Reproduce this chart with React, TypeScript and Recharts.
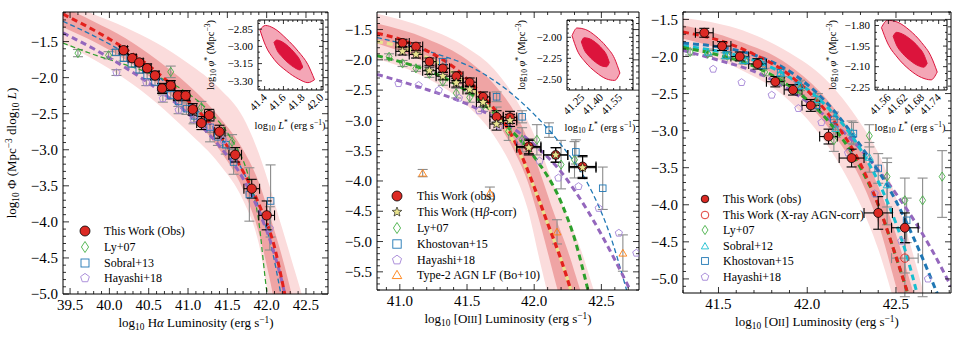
import React from 'react';
import { ComposedChart, XAxis, YAxis, Scatter, Line, Area, ErrorBar } from 'recharts';

const FONT = '"Liberation Serif", "DejaVu Serif", serif';
const W = 960;
const H = 341;

// ---------- Panel 1: H-alpha ----------
const haObsL = [40.18, 40.29, 40.38, 40.48, 40.58, 40.67, 40.78, 40.87, 40.97, 41.06, 41.17, 41.27, 41.40, 41.60, 41.81, 42.00];
const haObsPhi = [-1.62, -1.73, -1.79, -1.87, -1.97, -2.15, -2.11, -2.25, -2.25, -2.44, -2.63, -2.52, -2.75, -3.07, -3.54, -3.91];
const haObsErrPhi = [0.05, 0.05, 0.05, 0.06, 0.06, 0.07, 0.07, 0.07, 0.07, 0.08, 0.09, 0.08, 0.09, 0.1, 0.13, 0.2];
const haObsErrL = [0.05, 0.05, 0.05, 0.05, 0.05, 0.05, 0.05, 0.05, 0.05, 0.05, 0.06, 0.06, 0.07, 0.08, 0.1, 0.1];

const haSobL = [40.08, 40.18, 40.28, 40.38, 40.48, 40.58, 40.68, 40.78, 40.88, 40.98, 41.08, 41.18, 41.28, 41.38, 41.48, 41.58, 41.78, 42.05];
const haSobPhi = [-1.65, -1.73, -1.81, -1.89, -1.97, -2.06, -2.15, -2.24, -2.33, -2.43, -2.53, -2.62, -2.69, -2.82, -2.93, -3.17, -3.62, -3.71];
const haSobErr = [0.04, 0.04, 0.04, 0.05, 0.05, 0.05, 0.06, 0.06, 0.07, 0.08, 0.09, 0.1, 0.2, 0.12, 0.13, 0.17, 0.37, 0.5];

const haLyL = [39.60, 39.99, 40.78, 41.17, 41.56];
const haLyPhi = [-1.66, -1.69, -1.92, -2.41, -2.89];
const haLyErr = [0.05, 0.05, 0.08, 0.08, 0.1];

const haHayL = [40.09, 40.47, 40.68, 40.88, 41.07, 41.28, 41.45, 42.04];
const haHayPhi = [-1.93, -2.07, -2.29, -2.45, -2.58, -2.68, -2.87, -4.09];
const haHayErr = [0.04, 0.04, 0.05, 0.05, 0.06, 0.08, 0.1, 0.3];

const haFitL = [39.41, 39.8, 40.2, 40.6, 41.0, 41.4, 41.7, 41.9, 42.1, 42.23, 42.32];
const haFitPhi = [-1.12, -1.34, -1.60, -1.92, -2.32, -2.80, -3.3, -3.75, -4.35, -5.0, -5.5];
const haSobFitL = [39.41, 39.8, 40.2, 40.6, 41.0, 41.4, 41.7, 41.9, 42.05, 42.18];
const haSobFitPhi = [-1.22, -1.42, -1.66, -1.97, -2.33, -2.80, -3.3, -3.8, -4.3, -5.0];
const haHayFitL = [39.41, 39.8, 40.2, 40.6, 41.0, 41.4, 41.7, 41.9, 42.1, 42.23, 42.3];
const haHayFitPhi = [-1.38, -1.60, -1.86, -2.15, -2.50, -2.95, -3.40, -3.85, -4.45, -5.0, -5.4];
const haLyFitL = [39.41, 39.8, 40.2, 40.6, 41.0, 41.3, 41.55, 41.75, 41.9, 42.0, 42.05];
const haLyFitPhi = [-1.52, -1.68, -1.82, -1.98, -2.22, -2.50, -2.85, -3.3, -4.0, -4.95, -5.3];

const haBandL = [39.41, 39.8, 40.2, 40.6, 41.0, 41.4, 41.7, 41.9, 42.05, 42.2, 42.35, 42.5];
const haLightHi = [-0.95, -1.12, -1.30, -1.52, -1.8, -2.15, -2.55, -3.05, -3.55, -4.1, -4.65, -5.2];
const haLightLo = [-1.52, -1.75, -2.02, -2.35, -2.75, -3.2, -3.7, -4.3, -5.2, -6, -7, -8];
const haDarkHi = [-1.02, -1.22, -1.45, -1.75, -2.1, -2.55, -3.0, -3.45, -3.95, -4.5, -5.15, -5.9];
const haDarkLo = [-1.30, -1.50, -1.75, -2.07, -2.48, -3.0, -3.55, -4.15, -4.85, -5.7, -6.5, -7.5];

// ---------- Panel 2: [OIII] ----------
const o3ObsL = [41.02, 41.12, 41.22, 41.32, 41.42, 41.52, 41.62, 41.72, 41.82, 41.96, 42.16, 42.36];
const o3ObsPhi = [-1.72, -1.78, -2.03, -2.14, -2.27, -2.37, -2.61, -2.94, -2.95, -3.43, -3.57, -3.76];
const o3StarPhi = [-1.86, -1.91, -2.18, -2.27, -2.38, -2.49, -2.70, -3.06, -3.0, -3.45, -3.57, -3.78];
const o3ErrPhi = [0.06, 0.06, 0.06, 0.06, 0.07, 0.07, 0.08, 0.1, 0.1, 0.12, 0.12, 0.18];
const o3ErrL = [0.05, 0.05, 0.05, 0.05, 0.05, 0.05, 0.05, 0.05, 0.05, 0.09, 0.09, 0.1];

const o3LyL = [40.92, 41.02, 41.12, 41.22, 41.32, 41.42, 41.52, 41.62, 41.72, 41.81, 41.91, 42.02, 42.20, 42.30];
const o3LyPhi = [-1.95, -2.06, -2.14, -2.23, -2.36, -2.55, -2.62, -2.75, -2.9, -3.18, -3.32, -3.32, -3.73, -3.65];
const o3LyErr = [0.05, 0.05, 0.05, 0.06, 0.06, 0.08, 0.08, 0.1, 0.12, 0.15, 0.2, 0.25, 0.4, 0.3];

const o3KhoL = [41.32, 41.72, 41.91, 42.11, 42.31, 42.51];
const o3KhoPhi = [-2.03, -2.61, -2.94, -3.16, -3.52, -4.12];
const o3KhoErr = [0.05, 0.08, 0.1, 0.12, 0.2, 0.35];

const o3HayL = [40.99, 41.14, 41.29, 41.44, 41.59, 41.74, 41.89, 42.04, 42.18, 42.33, 42.48, 42.63, 42.76];
const o3HayPhi = [-2.39, -2.42, -2.50, -2.63, -2.84, -3.09, -3.34, -3.67, -3.95, -4.09, -4.45, -4.86, -5.19];

const o3AgnL = [41.17, 41.67, 42.17, 42.66];
const o3AgnPhi = [-3.87, -4.20, -4.84, -5.19];
const o3AgnErr = [0.06, 0.1, 0.2, 0.3];

const o3FitL = [40.83, 41.0, 41.2, 41.4, 41.6, 41.8, 41.9, 42.0, 42.1, 42.2, 42.3];
const o3FitPhi = [-1.56, -1.66, -1.85, -2.12, -2.55, -3.12, -3.55, -4.1, -4.7, -5.3, -6.0];
const o3CorrFitPhi = [-1.70, -1.78, -1.96, -2.22, -2.62, -3.18, -3.58, -4.12, -4.7, -5.3, -6.0];
const o3LyFitL = [40.83, 41.0, 41.2, 41.4, 41.6, 41.8, 42.0, 42.2, 42.3, 42.4];
const o3LyFitPhi = [-1.93, -2.03, -2.17, -2.38, -2.68, -3.1, -3.6, -4.35, -4.95, -5.8];
const o3KhoFitL = [40.83, 41.2, 41.6, 41.8, 42.0, 42.2, 42.4, 42.55, 42.7];
const o3KhoFitPhi = [-1.63, -1.85, -2.2, -2.5, -2.9, -3.4, -4.05, -4.8, -5.9];
const o3HayFitL = [40.83, 41.0, 41.2, 41.4, 41.6, 41.8, 42.0, 42.2, 42.4, 42.6, 42.78];
const o3HayFitPhi = [-2.24, -2.35, -2.49, -2.64, -2.83, -3.07, -3.4, -3.85, -4.5, -5.3, -6.1];

const o3BandL = [40.83, 41.2, 41.5, 41.7, 41.85, 41.95, 42.05, 42.15, 42.25, 42.35, 42.45, 42.55];
const o3LightHi = [-1.24, -1.48, -1.8, -2.15, -2.6, -3.0, -3.5, -4.1, -4.6, -5.15, -5.85, -6.5];
const o3DarkHi = [-1.40, -1.65, -2.0, -2.4, -2.85, -3.3, -3.9, -4.55, -5.15, -5.85, -6.5, -7];
const o3DarkLo = [-1.73, -2.05, -2.5, -2.95, -3.5, -4.0, -4.75, -5.6, -6.4, -7, -7.5, -8];
const o3LightLo = [-1.98, -2.3, -2.75, -3.25, -3.85, -4.45, -5.4, -6.3, -7, -7.5, -8, -8.5];

// ---------- Panel 3: [OII] ----------
const o2ObsL = [41.42, 41.52, 41.62, 41.72, 41.82, 41.92, 42.02, 42.12, 42.25, 42.40, 42.55];
const o2ObsPhi = [-1.68, -1.86, -2.00, -2.10, -2.34, -2.45, -2.66, -3.08, -3.37, -4.11, -4.31];
const o2ErrPhi = [0.06, 0.06, 0.06, 0.07, 0.07, 0.07, 0.08, 0.1, 0.12, 0.22, 0.2];
const o2ErrL = [0.05, 0.05, 0.05, 0.05, 0.05, 0.05, 0.05, 0.05, 0.07, 0.08, 0.075];

const o2XrL = [42.55];
const o2XrPhi = [-4.72];
const o2XrErrPhi = [0.2];
const o2XrErrL = [0.075];

const o2LyL = [41.34, 41.44, 41.55, 41.65, 41.76, 41.86, 41.96, 42.05, 42.15, 42.35, 42.45, 42.55, 42.65, 42.76];
const o2LyPhi = [-1.94, -1.96, -1.99, -2.05, -2.21, -2.33, -2.45, -2.62, -3.13, -3.07, -3.62, -3.94, -3.94, -3.62];
const o2LyErr: [number, number][] = [[0.04, 0.04], [0.04, 0.04], [0.04, 0.04], [0.05, 0.05], [0.05, 0.05], [0.06, 0.06], [0.07, 0.07], [0.08, 0.08], [0.15, 0.15], [0.15, 0.15], [0.65, 0.25], [1.3, 0.3], [1.3, 0.3], [0.55, 0.35]];

const o2SobL = [41.44, 41.54, 41.64, 41.74, 41.85, 41.96, 42.06, 42.16, 42.25, 42.35, 42.45];
const o2SobPhi = [-1.94, -1.99, -2.05, -2.08, -2.22, -2.39, -2.58, -2.97, -3.02, -3.36, -3.73];
const o2SobErr = [0.04, 0.04, 0.05, 0.05, 0.06, 0.07, 0.08, 0.12, 0.15, 0.2, 0.3];

const o2KhoL = [41.55, 41.65, 41.75, 41.85, 41.95, 42.05, 42.15, 42.26, 42.40, 42.56];
const o2KhoPhi = [-1.98, -2.05, -2.12, -2.22, -2.40, -2.66, -2.85, -3.04, -3.51, -4.21];
const o2KhoErr = [0.04, 0.04, 0.05, 0.05, 0.06, 0.08, 0.1, 0.15, 0.2, 0.3];

const o2HayL = [41.47, 41.63, 41.80, 41.95, 42.08, 42.23, 42.38, 42.53, 42.68];
const o2HayPhi = [-2.17, -2.35, -2.52, -2.70, -2.89, -3.30, -3.85, -4.49, -5.0];

const o2FitL = [41.30, 41.5, 41.7, 41.9, 42.1, 42.3, 42.4, 42.5, 42.58];
const o2FitPhi = [-1.67, -1.78, -1.97, -2.25, -2.72, -3.45, -4.0, -4.7, -5.3];
const o2KhoFitL = [41.30, 41.5, 41.7, 41.9, 42.1, 42.3, 42.5, 42.6, 42.75];
const o2KhoFitPhi = [-1.82, -1.87, -1.98, -2.2, -2.6, -3.2, -3.95, -4.45, -5.3];
const o2SobFitL = [41.30, 41.5, 41.7, 41.9, 42.1, 42.3, 42.45, 42.55, 42.63];
const o2SobFitPhi = [-1.86, -1.93, -2.05, -2.28, -2.65, -3.25, -3.95, -4.6, -5.3];
const o2LyFitL = [41.30, 41.5, 41.7, 41.9, 42.1, 42.3, 42.4, 42.5, 42.58];
const o2LyFitPhi = [-1.88, -1.98, -2.13, -2.4, -2.82, -3.5, -4.0, -4.7, -5.3];
const o2HayFitL = [41.30, 41.5, 41.7, 41.9, 42.1, 42.3, 42.5, 42.7, 42.81];
const o2HayFitPhi = [-1.92, -2.05, -2.2, -2.45, -2.8, -3.25, -3.85, -4.6, -5.1];

const o2BandL = [41.30, 41.6, 41.9, 42.1, 42.3, 42.4, 42.5, 42.6, 42.7];
const o2LightHi = [-1.48, -1.62, -1.95, -2.3, -2.9, -3.3, -3.9, -4.7, -5.6];
const o2DarkHi = [-1.58, -1.78, -2.12, -2.55, -3.25, -3.75, -4.4, -5.2, -6.0];
const o2DarkLo = [-1.76, -1.98, -2.4, -2.9, -3.65, -4.25, -5.1, -6.0, -7];
const o2LightLo = [-1.88, -2.15, -2.6, -3.15, -4.0, -4.6, -5.4, -6.3, -7.2];

// ---------- Insets: confidence ellipses of (L*, phi*) ----------
const in1OutL = [41.35, 41.41, 41.50, 41.63, 41.76, 41.86, 41.93];
const in1OutHi = [-2.855, -2.8175, -2.843, -2.932, -3.046, -3.159, -3.29];
const in1OutLo = [-2.855, -2.9925, -3.112, -3.213, -3.284, -3.316, -3.29];
const in1InL = [41.50, 41.53, 41.585, 41.652, 41.72, 41.775, 41.805];
const in1InHi = [-2.965, -2.945, -2.96, -3.0, -3.058, -3.12, -3.18];
const in1InLo = [-2.965, -3.03, -3.09, -3.145, -3.186, -3.205, -3.18];

const in2OutL = [41.17, 41.21, 41.275, 41.359, 41.443, 41.508, 41.55];
const in2OutHi = [-1.98, -1.889, -1.906, -1.987, -2.112, -2.254, -2.425];
const in2OutLo = [-1.98, -2.151, -2.294, -2.415, -2.495, -2.513, -2.425];
const in2InL = [41.244, 41.266, 41.305, 41.355, 41.405, 41.444, 41.466];
const in2InHi = [-2.054, -2.005, -2.015, -2.06, -2.13, -2.21, -2.30];
const in2InLo = [-2.054, -2.145, -2.225, -2.294, -2.34, -2.35, -2.30];

const in3OutL = [41.535, 41.557, 41.591, 41.635, 41.679, 41.713, 41.735];
const in3OutHi = [-1.815, -1.762, -1.7745, -1.833, -1.9245, -2.026, -2.139];
const in3OutLo = [-1.815, -1.928, -2.0295, -2.121, -2.1795, -2.196, -2.139];
const in3InL = [41.577, 41.589, 41.61, 41.638, 41.666, 41.687, 41.699];
const in3InHi = [-1.878, -1.85, -1.862, -1.899, -1.953, -2.012, -2.076];
const in3InLo = [-1.878, -1.942, -2.002, -2.055, -2.092, -2.104, -2.076];

// ---------- tick labels ----------
const p1XMajor = [39.5, 40.0, 40.5, 41.0, 41.5, 42.0, 42.5];
const p1YMajor = [-1.5, -2.0, -2.5, -3.0, -3.5, -4.0, -4.5, -5.0];
const p2XMajor = [41.0, 41.5, 42.0, 42.5];
const p2YMajor = [-1.5, -2.0, -2.5, -3.0, -3.5, -4.0, -4.5, -5.0, -5.5];
const p3XMajor = [41.5, 42.0, 42.5];
const p3YMajor = [-1.5, -2.0, -2.5, -3.0, -3.5, -4.0, -4.5, -5.0];
const i1XMajor = [41.4, 41.6, 41.8, 42.0];
const i1YMajor = [-2.85, -3.0, -3.15, -3.3];
const i2XMajor = [41.25, 41.4, 41.55];
const i2YMajor = [-2.0, -2.25, -2.5];
const i3XMajor = [41.56, 41.62, 41.68, 41.74];
const i3YMajor = [-1.8, -1.95, -2.1, -2.25];

const C = {
  fit: '#e3201c',
  obs: '#dc2a24',
  blue: '#1f77b4',
  green: '#2ca02c',
  greenMk: '#46b046',
  purple: '#9467bd',
  purpleMk: '#a383d6',
  cyan: '#17becf',
  orange: '#ff7f0e',
  khaki: '#e8e38e',
  gray: '#8c8c8c',
  light: '#fbdcdc',
  dark: '#efa4a4',
  crimson: '#dc143c',
  pink: '#f4a6b6',
};

type Rect = { l: number; r: number; t: number; b: number };
const P1: Rect = { l: 63, r: 328, t: 12, b: 294 };
const P2: Rect = { l: 377, r: 639, t: 12, b: 290 };
const P3: Rect = { l: 683, r: 951, t: 12, b: 293 };
const I1: Rect = { l: 258, r: 323, t: 20, b: 90 };
const I2: Rect = { l: 567, r: 633, t: 20, b: 90 };
const I3: Rect = { l: 875, r: 947, t: 20, b: 90 };
// every axis takes 1px, so the margins leave that room
const margin = (rc: Rect) => ({ left: rc.l - 1, right: W - rc.r - 1, top: rc.t - 1, bottom: H - rc.b - 1 });

const steps = (a: number, b: number, s: number) => {
  const out: number[] = [];
  const k0 = Math.ceil(a / s - 1e-6);
  const k1 = Math.floor(b / s + 1e-6);
  for (let k = k0; k <= k1; k++) out.push(+(k * s).toFixed(4));
  return out;
};

const sc = (xs: number[], ys: number[], ey?: any[], ex?: any[]) =>
  xs.map((x, i) => ({ x, y: ys[i], ey: ey ? ey[i] : 0, ex: ex ? ex[i] : 0 }));
const ln = (xs: number[], ys: number[]) => xs.map((x, i) => ({ x, y: ys[i] }));
const bd = (xs: number[], lo: number[], hi: number[]) => xs.map((x, i) => ({ x, r: [lo[i], hi[i]] }));

// ---------- markers ----------
const mkCircle = (fill: string, stroke: string, r: number, sw = 0.8) => (cx: number, cy: number) =>
  <circle cx={cx} cy={cy} r={r} fill={fill} stroke={stroke} strokeWidth={sw} />;
const mkDiamond = (color: string, h = 4.6, w = 3) => (cx: number, cy: number) =>
  <path d={`M${cx},${cy - h}L${cx + w},${cy}L${cx},${cy + h}L${cx - w},${cy}Z`} fill="none" stroke={color} strokeWidth={0.9} />;
const mkSquare = (color: string, s = 3.3) => (cx: number, cy: number) =>
  <rect x={cx - s} y={cy - s} width={2 * s} height={2 * s} fill="none" stroke={color} strokeWidth={0.9} />;
const poly = (cx: number, cy: number, n: number, r: number, r2?: number) => {
  const out: string[] = [];
  const m = r2 ? 2 * n : n;
  for (let k = 0; k < m; k++) {
    const a = -Math.PI / 2 + (k * 2 * Math.PI) / m;
    const rr = r2 && k % 2 === 1 ? r2 : r;
    out.push(`${(cx + rr * Math.cos(a)).toFixed(2)},${(cy + rr * Math.sin(a)).toFixed(2)}`);
  }
  return out.join(' ');
};
const mkPent = (color: string, r = 3.8) => (cx: number, cy: number) =>
  <polygon points={poly(cx, cy, 5, r)} fill="none" stroke={color} strokeWidth={0.9} />;
const mkTri = (color: string, r = 4.5) => (cx: number, cy: number) =>
  <polygon points={poly(cx, cy + 0.8, 3, r)} fill="none" stroke={color} strokeWidth={0.9} />;
const mkStar = (fill: string, r = 5, r2 = 2.2) => (cx: number, cy: number) =>
  <polygon points={poly(cx, cy, 5, r, r2)} fill={fill} stroke="#000" strokeWidth={0.6} />;
const shape = (mk: (cx: number, cy: number) => React.ReactElement) => (p: any) => mk(p.cx, p.cy);

// ---------- axes ----------
type Side = 'b' | 't' | 'l' | 'r';
function makeTick(side: Side, majors: number[], digits: number, fs: number, show: boolean, rot: boolean, majLen: number, minLen: number) {
  return (p: any) => {
    const v = Number(p.payload.value);
    const major = majors.some((m) => Math.abs(m - v) < 1e-6);
    const len = major ? majLen : minLen;
    const x = p.x;
    const y = p.y;
    const txt = (v < 0 ? '\u2212' : '') + Math.abs(v).toFixed(digits);
    let tl;
    if (side === 'b') tl = <line x1={x} x2={x} y1={y} y2={y - len} />;
    else if (side === 't') tl = <line x1={x} x2={x} y1={y} y2={y + len} />;
    else if (side === 'l') tl = <line x1={x} x2={x + len} y1={y} y2={y} />;
    else tl = <line x1={x} x2={x - len} y1={y} y2={y} />;
    let lab = null;
    if (show && major) {
      if (side === 'b' && !rot) lab = <text x={x} y={y + fs + 1} textAnchor="middle">{txt}</text>;
      else if (side === 'b') lab = <text x={x + 3} y={y + 8} textAnchor="end" transform={`rotate(-45 ${x + 3} ${y + 8})`}>{txt}</text>;
      else if (side === 'l') lab = <text x={x - 5} y={y} dy="0.34em" textAnchor="end">{txt}</text>;
    }
    return (
      <g>
        <g stroke="#000" strokeWidth={0.8}>{tl}</g>
        {lab && <g fill="#000" fontSize={fs} fontFamily={FONT}>{lab}</g>}
      </g>
    );
  };
}

function frame(xd: [number, number], yd: [number, number], xMaj: number[], yMaj: number[], xStep: number, yStep: number,
  xDig: number, yDig: number, fs: number, rot = false, majLen = 6, minLen = 3) {
  const xt = steps(xd[0], xd[1], xStep);
  const yt = steps(yd[0], yd[1], yStep);
  const common = { type: 'number' as const, allowDataOverflow: true, interval: 0 as const, tickLine: false, tickSize: 0, tickMargin: 0, axisLine: { stroke: '#000', strokeWidth: 1 } };
  return [
    <XAxis key="xb" {...common} dataKey="x" domain={xd} ticks={xt} height={1} tick={makeTick('b', xMaj, xDig, fs, true, rot, majLen, minLen)} />,
    <XAxis key="xt" {...common} xAxisId="t" orientation="top" dataKey="x" domain={xd} ticks={xt} height={1} tick={makeTick('t', xMaj, xDig, fs, false, rot, majLen, minLen)} />,
    <YAxis key="yl" {...common} dataKey="y" domain={yd} ticks={yt} width={1} tick={makeTick('l', yMaj, yDig, fs, true, rot, majLen, minLen)} />,
    <YAxis key="yr" {...common} yAxisId="r" orientation="right" dataKey="y" domain={yd} ticks={yt} width={1} tick={makeTick('r', yMaj, yDig, fs, false, rot, majLen, minLen)} />,
  ];
}

const bands = (xs: number[], lLo: number[], lHi: number[], dLo: number[], dHi: number[]) => [
  <Area key="bl" data={bd(xs, lLo, lHi)} dataKey="r" type="monotone" stroke="none" fill={C.light} fillOpacity={1} isAnimationActive={false} />,
  <Area key="bd" data={bd(xs, dLo, dHi)} dataKey="r" type="monotone" stroke="none" fill={C.dark} fillOpacity={1} isAnimationActive={false} />,
];
const curve = (key: string, xs: number[], ys: number[], color: string, w: number, dash: string) =>
  <Line key={key} data={ln(xs, ys)} dataKey="y" type="monotone" stroke={color} strokeWidth={w} strokeDasharray={dash} dot={false} isAnimationActive={false} />;
const pts = (key: string, data: any[], mk: (cx: number, cy: number) => React.ReactElement, errColor?: string, withY = true, withX = false) => (
  <Scatter key={key} data={data} dataKey="y" shape={shape(mk)} isAnimationActive={false}>
    {withY && errColor && <ErrorBar dataKey="ey" direction="y" width={5} stroke={errColor} strokeWidth={1.1} />}
    {withX && errColor && <ErrorBar dataKey="ex" direction="x" width={5} stroke={errColor} strokeWidth={1.1} />}
  </Scatter>
);
const ellipse = (key: string, xs: number[], lo: number[], hi: number[], fill: string, stroke: string) =>
  <Area key={key} data={bd(xs, lo, hi)} dataKey="r" type="monotone" stroke={stroke} strokeWidth={1} fill={fill} fillOpacity={1} isAnimationActive={false} />;

// ---------- text helpers ----------
const Sub = ({ c }: { c: string }) => <span style={{ fontSize: '72%', verticalAlign: '-0.3em' }}>{c}</span>;
const Sup = ({ c }: { c: string }) => <span style={{ fontSize: '72%', verticalAlign: '0.45em' }}>{c}</span>;
const SC = ({ c }: { c: string }) => <span style={{ fontSize: '78%' }}>{c}</span>;

const Label = ({ x, y, size, rotate, children }: { x: number; y: number; size: number; rotate?: boolean; children: React.ReactNode }) => (
  <div style={{ position: 'absolute', left: x, top: y, transform: `translate(-50%, -50%)${rotate ? ' rotate(-90deg)' : ''}`, fontSize: size, lineHeight: 1, whiteSpace: 'nowrap', fontFamily: FONT, color: '#000' }}>
    {children}
  </div>
);

type LegItem = { mk: (cx: number, cy: number) => React.ReactElement; text: React.ReactNode };
const Legend = ({ mx, tx, ys, items }: { mx: number; tx: number; ys: number[]; items: LegItem[] }) => (
  <>
    {items.map((it, i) => (
      <React.Fragment key={i}>
        <svg style={{ position: 'absolute', left: mx - 9, top: ys[i] - 9 }} width={18} height={18}>{it.mk(9, 9)}</svg>
        <div style={{ position: 'absolute', left: tx, top: ys[i], transform: 'translateY(-50%)', fontSize: 12, lineHeight: 1, fontFamily: FONT, whiteSpace: 'nowrap' }}>{it.text}</div>
      </React.Fragment>
    ))}
  </>
);

const chartStyle = { position: 'absolute' as const, left: 0, top: 0 };
const InsetBg = ({ rc }: { rc: Rect }) => <div style={{ position: 'absolute', left: rc.l, top: rc.t, width: rc.r - rc.l, height: rc.b - rc.t, background: '#fff' }} />;

const InsetXLabel = ({ x, y }: { x: number; y: number }) => (
  <Label x={x} y={y} size={10.5}>log<Sub c="10" /> <i>L</i><Sup c="*" /> (erg s<Sup c="−1" />)</Label>
);
const InsetYLabel = ({ x, y }: { x: number; y: number }) => (
  <Label x={x} y={y} size={10.5} rotate>log<Sub c="10" /> <i>φ</i><Sup c="*" /> (Mpc<Sup c="−3" />)</Label>
);

export default function App() {
  return (
    <div style={{ position: 'absolute', left: 0, top: 0, width: W, height: H, background: '#fff', overflow: 'hidden', fontFamily: FONT }}>
      {/* Panel 1 */}
      <ComposedChart width={W} height={H} margin={margin(P1)} style={chartStyle}>
        {bands(haBandL, haLightLo, haLightHi, haDarkLo, haDarkHi)}
        {pts('hsob', sc(haSobL, haSobPhi, haSobErr), mkSquare(C.blue), C.gray)}
        {pts('hly', sc(haLyL, haLyPhi, haLyErr), mkDiamond(C.greenMk), C.gray)}
        {pts('hhay', sc(haHayL, haHayPhi, haHayErr), mkPent(C.purpleMk), C.gray)}
        {curve('hlyf', haLyFitL, haLyFitPhi, C.green, 1.2, '5 3')}
        {curve('hsobf', haSobFitL, haSobFitPhi, C.blue, 1.3, '5 3')}
        {curve('hhayf', haHayFitL, haHayFitPhi, C.purple, 3, '6 4')}
        {curve('hfit', haFitL, haFitPhi, C.fit, 3, '6 4')}
        {pts('hobs', sc(haObsL, haObsPhi, haObsErrPhi, haObsErrL), mkCircle(C.obs, '#000', 4.7), '#000', true, true)}
        {frame([39.41, 42.78], [-5.0, -1.09], p1XMajor, p1YMajor, 0.1, 0.1, 1, 1, 15)}
      </ComposedChart>

      {/* Panel 2 */}
      <ComposedChart width={W} height={H} margin={margin(P2)} style={chartStyle}>
        {bands(o3BandL, o3LightLo, o3LightHi, o3DarkLo, o3DarkHi)}
        {pts('oagn', sc(o3AgnL, o3AgnPhi, o3AgnErr), mkTri(C.orange), C.gray)}
        {pts('olyp', sc(o3LyL, o3LyPhi, o3LyErr), mkDiamond(C.greenMk), C.gray)}
        {pts('okho', sc(o3KhoL, o3KhoPhi, o3KhoErr), mkSquare(C.blue), C.gray)}
        {pts('ohay', sc(o3HayL, o3HayPhi), mkPent(C.purpleMk))}
        {curve('okhof', o3KhoFitL, o3KhoFitPhi, C.blue, 1.3, '5 3')}
        {curve('ohayf', o3HayFitL, o3HayFitPhi, C.purple, 3, '6 4')}
        {curve('olyf', o3LyFitL, o3LyFitPhi, C.green, 3, '6 4')}
        {curve('ocorr', o3FitL, o3CorrFitPhi, C.khaki, 3.2, '6 4')}
        {curve('ofit', o3FitL, o3FitPhi, C.fit, 3.2, '6 4')}
        {pts('oobs', sc(o3ObsL, o3ObsPhi, o3ErrPhi, o3ErrL), mkCircle(C.obs, '#000', 4.4), '#000', true, true)}
        {pts('ostar', sc(o3ObsL, o3StarPhi, o3ErrPhi, o3ErrL), mkStar(C.khaki), '#000', true, true)}
        {frame([40.83, 42.78], [-5.8, -1.21], p2XMajor, p2YMajor, 0.1, 0.1, 1, 1, 15)}
      </ComposedChart>

      {/* Panel 3 */}
      <ComposedChart width={W} height={H} margin={margin(P3)} style={chartStyle}>
        {bands(o2BandL, o2LightLo, o2LightHi, o2DarkLo, o2DarkHi)}
        {pts('tly', sc(o2LyL, o2LyPhi, o2LyErr), mkDiamond(C.greenMk), C.gray)}
        {pts('tkho', sc(o2KhoL, o2KhoPhi, o2KhoErr), mkSquare(C.blue), C.gray)}
        {pts('tsob', sc(o2SobL, o2SobPhi, o2SobErr), mkTri(C.cyan), C.gray)}
        {pts('thay', sc(o2HayL, o2HayPhi), mkPent(C.purpleMk))}
        {pts('txr', sc(o2XrL, o2XrPhi, o2XrErrPhi, o2XrErrL), mkCircle('none', C.obs, 4.2, 0.9), C.gray, true, true)}
        {curve('thayf', o2HayFitL, o2HayFitPhi, C.purple, 3, '6 4')}
        {curve('tkhof', o2KhoFitL, o2KhoFitPhi, C.blue, 3, '6 4')}
        {curve('tsobf', o2SobFitL, o2SobFitPhi, C.cyan, 3, '6 4')}
        {curve('tlyf', o2LyFitL, o2LyFitPhi, C.green, 3, '6 4')}
        {curve('tfit', o2FitL, o2FitPhi, C.fit, 3, '6 4')}
        {pts('tobs', sc(o2ObsL, o2ObsPhi, o2ErrPhi, o2ErrL), mkCircle(C.obs, '#000', 4.5), '#000', true, true)}
        {frame([41.30, 42.81], [-5.19, -1.40], p3XMajor, p3YMajor, 0.1, 0.1, 1, 1, 15)}
      </ComposedChart>

      {/* Insets */}
      <InsetBg rc={I1} />
      <ComposedChart width={W} height={H} margin={margin(I1)} style={chartStyle}>
        {ellipse('e1o', in1OutL, in1OutLo, in1OutHi, C.pink, C.crimson)}
        {ellipse('e1i', in1InL, in1InLo, in1InHi, C.crimson, C.crimson)}
        {frame([41.33, 42.02], [-3.38, -2.77], i1XMajor, i1YMajor, 0.05, 0.05, 1, 2, 11, true, 4, 2)}
      </ComposedChart>
      <InsetBg rc={I2} />
      <ComposedChart width={W} height={H} margin={margin(I2)} style={chartStyle}>
        {ellipse('e2o', in2OutL, in2OutLo, in2OutHi, C.pink, C.crimson)}
        {ellipse('e2i', in2InL, in2InLo, in2InHi, C.crimson, C.crimson)}
        {frame([41.13, 41.654], [-2.627, -1.794], i2XMajor, i2YMajor, 0.05, 0.05, 2, 2, 11, true, 4, 2)}
      </ComposedChart>
      <InsetBg rc={I3} />
      <ComposedChart width={W} height={H} margin={margin(I3)} style={chartStyle}>
        {ellipse('e3o', in3OutL, in3OutLo, in3OutHi, C.pink, C.crimson)}
        {ellipse('e3i', in3InL, in3InLo, in3InHi, C.crimson, C.crimson)}
        {frame([41.512, 41.77], [-2.27, -1.76], i3XMajor, i3YMajor, 0.02, 0.05, 2, 2, 11, true, 4, 2)}
      </ComposedChart>

      {/* Inset labels */}
      <InsetYLabel x={211} y={55} />
      <InsetXLabel x={290} y={126} />
      <InsetYLabel x={522} y={55} />
      <InsetXLabel x={600} y={128} />
      <InsetYLabel x={833} y={55} />
      <InsetXLabel x={910} y={128} />

      {/* Axis titles */}
      <Label x={13} y={153} size={13} rotate>log<Sub c="10" /> Φ (Mpc<Sup c="−3" /> dlog<Sub c="10" /> <i>L</i>)</Label>
      <Label x={196} y={324} size={13}>log<Sub c="10" /> H<i>α</i> Luminosity (erg s<Sup c="−1" />)</Label>
      <Label x={508} y={320} size={13}>log<Sub c="10" /> [O<SC c="III" />] Luminosity (erg s<Sup c="−1" />)</Label>
      <Label x={817} y={323} size={13}>log<Sub c="10" /> [O<SC c="II" />] Luminosity (erg s<Sup c="−1" />)</Label>

      {/* Legends */}
      <Legend mx={85} tx={104} ys={[231, 246.7, 262.5, 278.3]} items={[
        { mk: mkCircle(C.obs, '#000', 5), text: 'This Work (Obs)' },
        { mk: mkDiamond(C.greenMk, 5.5, 3.6), text: 'Ly+07' },
        { mk: mkSquare(C.blue, 4), text: 'Sobral+13' },
        { mk: mkPent(C.purpleMk, 4.6), text: 'Hayashi+18' },
      ]} />
      <Legend mx={397} tx={417} ys={[196, 212, 228, 244, 259.5, 275]} items={[
        { mk: mkCircle(C.obs, '#000', 5), text: 'This Work (obs)' },
        { mk: mkStar(C.khaki, 5, 2.2), text: <>This Work (H<i>β</i>-corr)</> },
        { mk: mkDiamond(C.greenMk, 5.5, 3.6), text: 'Ly+07' },
        { mk: mkSquare(C.blue, 4.2), text: 'Khostovan+15' },
        { mk: mkPent(C.purpleMk, 4.8), text: 'Hayashi+18' },
        { mk: mkTri(C.orange, 5.5), text: 'Type-2 AGN LF (Bo+10)' },
      ]} />
      <Legend mx={705} tx={723} ys={[199.3, 214.8, 230.3, 245.8, 261.3, 276.8]} items={[
        { mk: mkCircle(C.obs, '#000', 3.8), text: 'This Work (obs)' },
        { mk: mkCircle('none', C.obs, 3.8, 0.9), text: 'This Work (X-ray AGN-corr)' },
        { mk: mkDiamond(C.greenMk, 4.6, 3), text: 'Ly+07' },
        { mk: mkTri(C.cyan, 4.2), text: 'Sobral+12' },
        { mk: mkSquare(C.blue, 3.4), text: 'Khostovan+15' },
        { mk: mkPent(C.purpleMk, 4), text: 'Hayashi+18' },
      ]} />
    </div>
  );
}
